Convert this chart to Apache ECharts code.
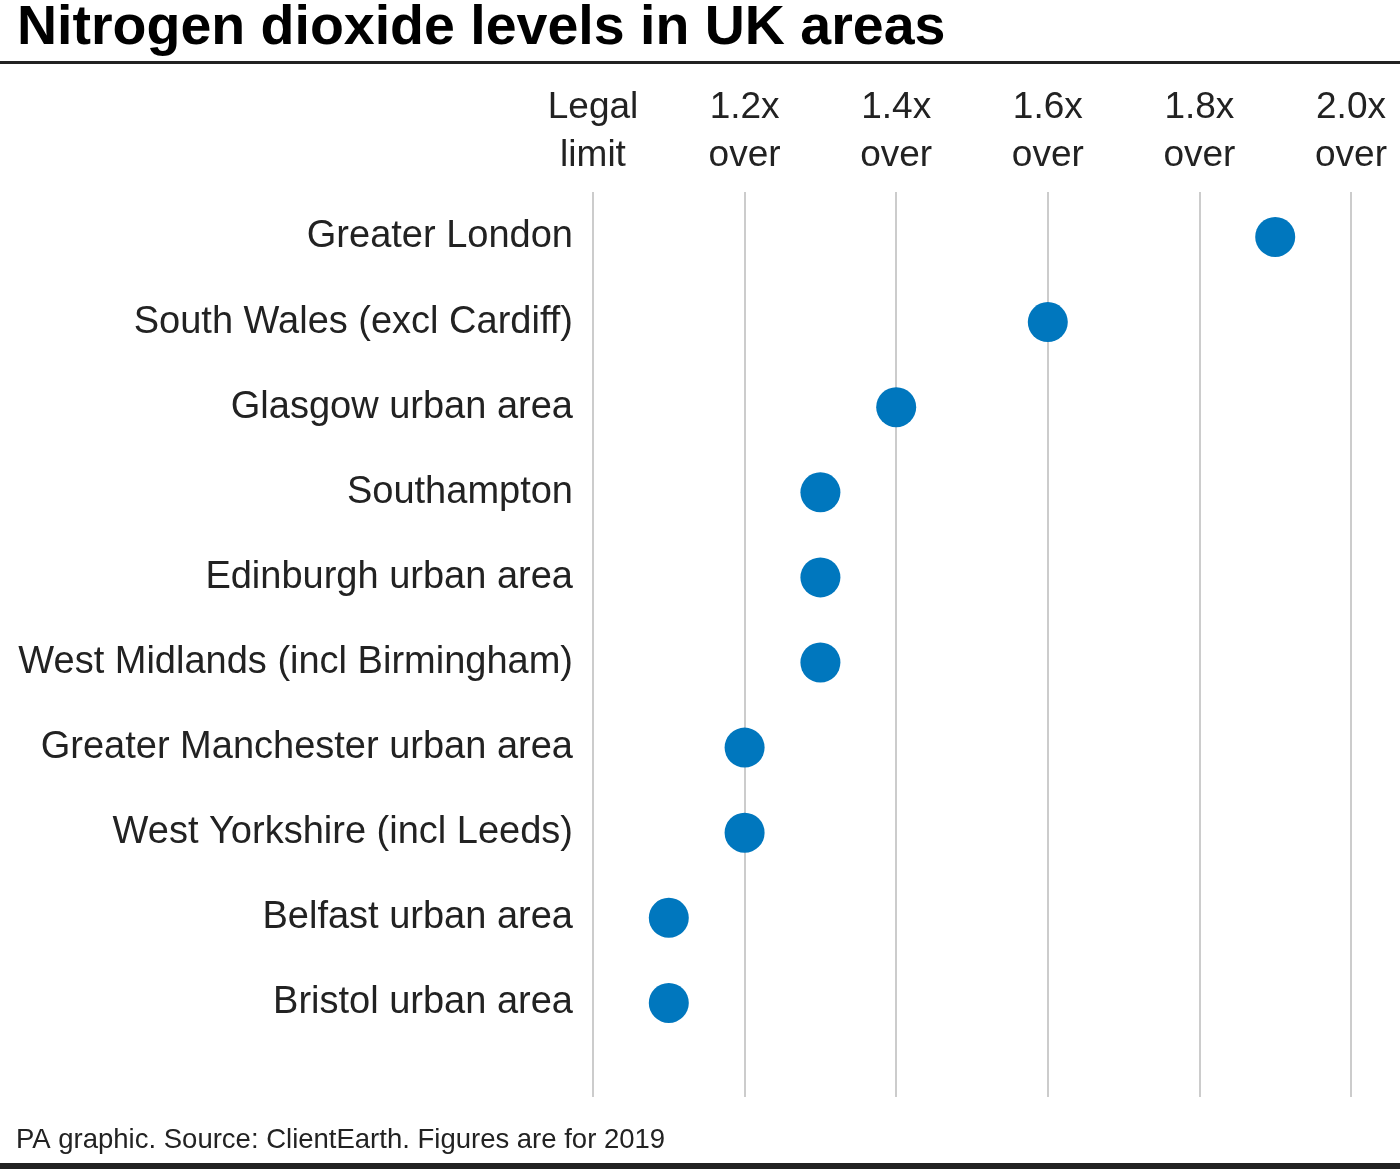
<!DOCTYPE html>
<html><head><meta charset="utf-8">
<script src="https://cdn.jsdelivr.net/npm/echarts@6/dist/echarts.min.js"></script>
<style>html,body{margin:0;padding:0;background:#fff}#c{width:1400px;height:1169px}</style>
</head><body><div id="c"></div>
<script>
const categories = ["Greater London","South Wales (excl Cardiff)","Glasgow urban area","Southampton","Edinburgh urban area","West Midlands (incl Birmingham)","Greater Manchester urban area","West Yorkshire (incl Leeds)","Belfast urban area","Bristol urban area"];
const values = [1.90,1.60,1.40,1.30,1.30,1.30,1.20,1.20,1.10,1.10];
const tickLabels = ["Legal\nlimit","1.2x\nover","1.4x\nover","1.6x\nover","1.8x\nover","2.0x\nover"];
const FONT = '"Liberation Sans", Arial, sans-serif';
const chart = echarts.init(document.getElementById('c'), null, {renderer:'canvas'});
chart.setOption({
  animation:false,
  textStyle:{fontFamily:FONT},
  graphic:[
    {type:'text', left:17, top:1, style:{text:'Nitrogen dioxide levels in UK areas', font:'bold 55.5px '+FONT, fill:'#000'}},
    {type:'rect', shape:{x:0,y:61,width:1400,height:3}, style:{fill:'#222'}},
    {type:'text', left:16, top:1126, style:{text:'PA graphic. Source: ClientEarth. Figures are for 2019', font:'27.5px '+FONT, fill:'#222'}},
    {type:'rect', shape:{x:0,y:1163,width:1400,height:6}, style:{fill:'#222'}}
  ],
  grid:[
    {left:593, width:758, top:192, height:905},
    {left:593, width:758, top:194.4, height:851.1}
  ],
  xAxis:[
    {gridIndex:0, type:'value', position:'top', min:1, max:2, interval:0.2,
     axisLine:{show:false}, axisTick:{show:false},
     splitLine:{show:true, lineStyle:{color:'#cccccc', width:2}},
     axisLabel:{margin:12, fontSize:37, lineHeight:48, color:'#222', fontFamily:FONT,
       formatter:function(v){return tickLabels[Math.round((v-1)/0.2)];}}},
    {gridIndex:1, type:'value', min:1, max:2, show:false}
  ],
  yAxis:[
    {gridIndex:0, type:'value', show:false},
    {gridIndex:1, type:'category', inverse:true, data:categories,
     axisLine:{show:false}, axisTick:{show:false}, splitLine:{show:false},
     axisLabel:{margin:20, fontSize:38, color:'#222', fontFamily:FONT}}
  ],
  series:[{type:'scatter', xAxisIndex:1, yAxisIndex:1, data:values, symbolSize:40,
    itemStyle:{color:'#0077be', opacity:1}}]
});
</script></body></html>
